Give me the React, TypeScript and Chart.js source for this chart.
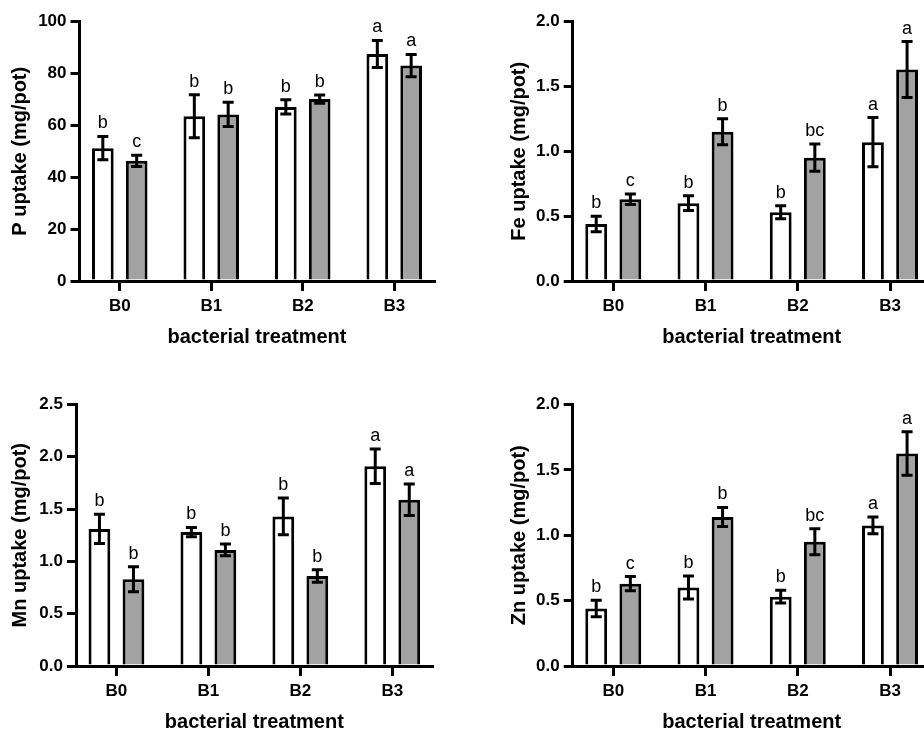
import React, { useEffect, useRef } from 'react';
import { Chart, registerables } from 'chart.js';

Chart.register(...registerables);

// ---------- data ----------
const categories = ['B0', 'B1', 'B2', 'B3'];
const xAxisTitle = 'bacterial treatment';

const pTitle = 'P uptake (mg/pot)';
const pTicks = [0, 20, 40, 60, 80, 100];
const pWhite = [51.2, 63.5, 67.1, 87.5];
const pWhiteErr = [4.5, 8.3, 2.7, 5.2];
const pGray = [46.3, 64.2, 70.1, 83.0];
const pGrayErr = [2.2, 4.7, 1.6, 4.3];
const pWhiteLetters = ['b', 'b', 'b', 'a'];
const pGrayLetters = ['c', 'b', 'b', 'a'];

const feTitle = 'Fe uptake (mg/pot)';
const feTicks = [0, 0.5, 1.0, 1.5, 2.0];
const feWhite = [0.44, 0.6, 0.53, 1.07];
const feWhiteErr = [0.06, 0.057, 0.05, 0.19];
const feGray = [0.63, 1.15, 0.95, 1.63];
const feGrayErr = [0.04, 0.1, 0.105, 0.215];
const feWhiteLetters = ['b', 'b', 'b', 'a'];
const feGrayLetters = ['c', 'b', 'bc', 'a'];

const mnTitle = 'Mn uptake (mg/pot)';
const mnTicks = [0, 0.5, 1.0, 1.5, 2.0, 2.5];
const mnWhite = [1.31, 1.28, 1.43, 1.91];
const mnWhiteErr = [0.14, 0.045, 0.175, 0.165];
const mnGray = [0.83, 1.11, 0.86, 1.59];
const mnGrayErr = [0.12, 0.056, 0.06, 0.15];
const mnWhiteLetters = ['b', 'b', 'b', 'a'];
const mnGrayLetters = ['b', 'b', 'b', 'a'];

const znTitle = 'Zn uptake (mg/pot)';
const znTicks = [0, 0.5, 1.0, 1.5, 2.0];
const znWhite = [0.44, 0.6, 0.53, 1.075];
const znWhiteErr = [0.063, 0.088, 0.049, 0.064];
const znGray = [0.63, 1.14, 0.95, 1.625];
const znGrayErr = [0.054, 0.073, 0.1, 0.166];
const znWhiteLetters = ['b', 'b', 'b', 'a'];
const znGrayLetters = ['c', 'b', 'bc', 'a'];

// ---------- styles ----------
const FONT = "'Liberation Sans', Arial, Helvetica, sans-serif";
const GRAY = '#a2a2a2';

const errorLetterPlugin = {
  id: 'errLetters',
  afterDatasetsDraw(chart: any) {
    const ctx = chart.ctx;
    const ys = chart.scales.y;
    chart.data.datasets.forEach((ds: any, di: number) => {
      const meta = chart.getDatasetMeta(di);
      meta.data.forEach((bar: any, i: number) => {
        const v = ds.data[i].y;
        const e = ds.errors[i];
        const x = bar.x;
        const top = ys.getPixelForValue(v + e);
        const bot = ys.getPixelForValue(v - e);
        ctx.save();
        ctx.strokeStyle = '#000';
        ctx.lineWidth = 3;
        ctx.beginPath();
        ctx.moveTo(x, top);
        ctx.lineTo(x, bot);
        ctx.moveTo(x - 5.5, top);
        ctx.lineTo(x + 5.5, top);
        ctx.moveTo(x - 5.5, bot);
        ctx.lineTo(x + 5.5, bot);
        ctx.stroke();
        ctx.fillStyle = '#000';
        ctx.font = `18px ${FONT}`;
        ctx.textAlign = 'center';
        ctx.textBaseline = 'alphabetic';
        ctx.fillText(ds.letters[i], x, top - 8);
        ctx.restore();
      });
    });
  },
};

type Box = { cx: number; cy: number; cw: number; ch: number; L: number; R: number; T: number; B: number; yTitleX: number; xTitleY: number };

type PanelProps = {
  title: string;
  ticks: number[];
  decimals: number;
  white: number[];
  whiteErr: number[];
  gray: number[];
  grayErr: number[];
  whiteLetters: string[];
  grayLetters: string[];
  box: Box;
};

function Panel(p: PanelProps) {
  const ref = useRef<HTMLCanvasElement | null>(null);
  useEffect(() => {
    if (!ref.current) return;
    const b = p.box;
    const yW = b.L - b.cx;
    const xH = b.cy + b.ch - b.B;
    const padTop = b.T - b.cy;
    const padRight = b.cx + b.cw - b.R;
    const yTitlePad = b.yTitleX - b.cx - 12;
    const xTitlePad = b.cy + b.ch - b.xTitleY - 12;
    const gridCommon = {
      display: true,
      drawOnChartArea: false,
      drawTicks: true,
      offset: false,
      color: '#000',
      lineWidth: 3,
      tickWidth: 3,
      tickColor: '#000',
    };
    const chart = new Chart(ref.current, {
      type: 'bar',
      data: {
        datasets: [
          {
            data: p.white.map((v, i) => ({ x: i, y: v })),
            errors: p.whiteErr,
            letters: p.whiteLetters,
            backgroundColor: '#ffffff',
            borderColor: '#000',
            borderWidth: 3,
            barPercentage: 0.64,
            categoryPercentage: 0.74,
          } as any,
          {
            data: p.gray.map((v, i) => ({ x: i, y: v })),
            errors: p.grayErr,
            letters: p.grayLetters,
            backgroundColor: GRAY,
            borderColor: '#000',
            borderWidth: 3,
            barPercentage: 0.64,
            categoryPercentage: 0.74,
          } as any,
        ],
      },
      options: {
        animation: false,
        responsive: false,
        maintainAspectRatio: false,
        layout: { padding: { left: 0, top: padTop, right: padRight, bottom: 0 } },
        plugins: { legend: { display: false }, tooltip: { enabled: false } },
        scales: {
          x: {
            type: 'linear',
            min: -0.44,
            max: 3.44,
            offset: false,
            afterFit: (s: any) => {
              s.height = xH;
            },
            afterBuildTicks: (s: any) => {
              s.ticks = categories.map((_, i) => ({ value: i }));
            },
            grid: { ...gridCommon, tickLength: 10 },
            border: { display: true, color: '#000', width: 3 },
            ticks: {
              autoSkip: false,
              maxRotation: 0,
              padding: 5,
              color: '#000',
              font: { family: FONT, size: 17, weight: 'bold' },
              callback: (v: any) => categories[Math.round(Number(v))] ?? '',
            },
            title: {
              display: true,
              text: xAxisTitle,
              color: '#000',
              font: { family: FONT, size: 20, weight: 'bold' },
              padding: { top: 0, bottom: xTitlePad },
            },
          },
          y: {
            type: 'linear',
            min: p.ticks[0],
            max: p.ticks[p.ticks.length - 1],
            afterFit: (s: any) => {
              s.width = yW;
            },
            afterBuildTicks: (s: any) => {
              s.ticks = p.ticks.map((v) => ({ value: v }));
            },
            grid: { ...gridCommon, tickLength: 9 },
            border: { display: true, color: '#000', width: 3 },
            ticks: {
              autoSkip: false,
              padding: 4,
              color: '#000',
              font: { family: FONT, size: 17, weight: 'bold' },
              callback: (v: any) => Number(v).toFixed(p.decimals),
            },
            title: {
              display: true,
              text: p.title,
              color: '#000',
              font: { family: FONT, size: 20, weight: 'bold' },
              padding: { top: yTitlePad, bottom: 0 },
            },
          },
        },
      } as any,
      plugins: [errorLetterPlugin],
    });
    return () => chart.destroy();
  }, []);
  const b = p.box;
  return (
    <canvas
      ref={ref}
      width={b.cw}
      height={b.ch}
      style={{ position: 'absolute', left: b.cx, top: b.cy, width: b.cw, height: b.ch }}
    />
  );
}

const boxP: Box = { cx: 0, cy: 0, cw: 460, ch: 370, L: 79.5, R: 434.5, T: 21.5, B: 281, yTitleX: 20.5, xTitleY: 337 };
const boxFe: Box = { cx: 499, cy: 0, cw: 440, ch: 370, L: 572.7, R: 930.6, T: 21.5, B: 281, yTitleX: 519, xTitleY: 337 };
const boxMn: Box = { cx: 0, cy: 370, cw: 460, ch: 380, L: 76, R: 432.7, T: 404.5, B: 666, yTitleX: 20, xTitleY: 722 };
const boxZn: Box = { cx: 499, cy: 370, cw: 440, ch: 380, L: 572.7, R: 930.6, T: 404.5, B: 666, yTitleX: 519, xTitleY: 722 };

export default function App() {
  return (
    <div
      style={{
        position: 'fixed',
        left: 0,
        top: 0,
        width: 924,
        height: 731,
        overflow: 'hidden',
        background: '#fff',
      }}
    >
      <Panel title={pTitle} ticks={pTicks} decimals={0} white={pWhite} whiteErr={pWhiteErr} gray={pGray} grayErr={pGrayErr} whiteLetters={pWhiteLetters} grayLetters={pGrayLetters} box={boxP} />
      <Panel title={feTitle} ticks={feTicks} decimals={1} white={feWhite} whiteErr={feWhiteErr} gray={feGray} grayErr={feGrayErr} whiteLetters={feWhiteLetters} grayLetters={feGrayLetters} box={boxFe} />
      <Panel title={mnTitle} ticks={mnTicks} decimals={1} white={mnWhite} whiteErr={mnWhiteErr} gray={mnGray} grayErr={mnGrayErr} whiteLetters={mnWhiteLetters} grayLetters={mnGrayLetters} box={boxMn} />
      <Panel title={znTitle} ticks={znTicks} decimals={1} white={znWhite} whiteErr={znWhiteErr} gray={znGray} grayErr={znGrayErr} whiteLetters={znWhiteLetters} grayLetters={znGrayLetters} box={boxZn} />
    </div>
  );
}
